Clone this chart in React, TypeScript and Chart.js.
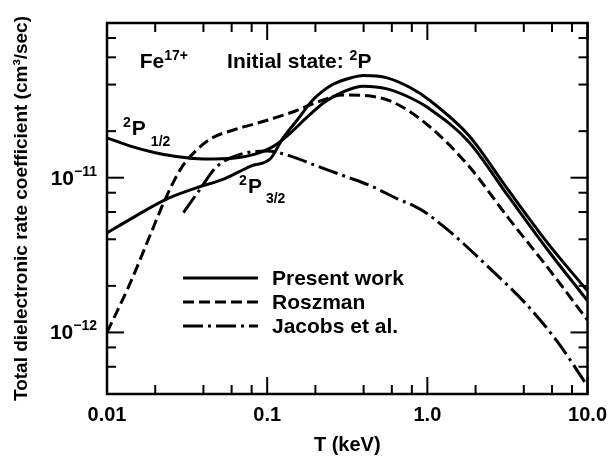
import React, { useEffect, useRef } from 'react';
import { Chart, registerables } from 'chart.js';

Chart.register(...registerables);

const FONT = '"Liberation Sans", Arial, Helvetica, sans-serif';

// ---------------- data ----------------
// Present work, initial state 2P1/2
const p12T = [0.01, 0.014, 0.02, 0.027, 0.04, 0.063, 0.084, 0.11, 0.14, 0.18, 0.23, 0.3, 0.4, 0.56, 0.8, 1.0, 1.8, 3.2, 5.6, 10];
const p12V = [1.81e-11, 1.6e-11, 1.45e-11, 1.37e-11, 1.32e-11, 1.34e-11, 1.42e-11, 1.6e-11, 1.95e-11, 2.5e-11, 3.1e-11, 3.6e-11, 3.9e-11, 3.75e-11, 3.25e-11, 2.85e-11, 1.72e-11, 7.6e-12, 3.45e-12, 1.6e-12];
// Present work, initial state 2P3/2
const p32T = [0.01, 0.014, 0.023, 0.036, 0.0535, 0.079, 0.105, 0.124, 0.155, 0.194, 0.256, 0.34, 0.4, 0.56, 0.79, 1.04, 1.82, 3.18, 5.56, 10];
const p32V = [4.4e-12, 5.4e-12, 7.2e-12, 8.6e-12, 9.8e-12, 1.19e-11, 1.33e-11, 1.77e-11, 2.38e-11, 3.2e-11, 4.0e-11, 4.45e-11, 4.57e-11, 4.42e-11, 3.8e-11, 3.15e-11, 1.87e-11, 8.4e-12, 3.85e-12, 1.85e-12];
// Roszman
const roszT = [0.01, 0.014, 0.0185, 0.023, 0.029, 0.036, 0.045, 0.063, 0.1, 0.15, 0.2, 0.3, 0.4, 0.6, 1.0, 1.8, 3.2, 5.6, 10];
const roszV = [1.0e-12, 2.1e-12, 4.2e-12, 7.2e-12, 1.15e-11, 1.5e-11, 1.8e-11, 2.05e-11, 2.35e-11, 2.7e-11, 3.05e-11, 3.42e-11, 3.4e-11, 3.1e-11, 2.2e-11, 1.2e-11, 5.5e-12, 2.65e-12, 1.2e-12];
// Jacobs et al.
const jacT = [0.03, 0.038, 0.048, 0.067, 0.1, 0.14, 0.2, 0.3, 0.45, 0.66, 0.82, 1.0, 1.2, 1.45, 2.4, 4.2, 6.6, 10];
const jacV = [5.95e-12, 8.4e-12, 1.17e-11, 1.41e-11, 1.49e-11, 1.38e-11, 1.2e-11, 1.03e-11, 8.8e-12, 7.25e-12, 6.6e-12, 5.85e-12, 5.05e-12, 4.3e-12, 2.65e-12, 1.5e-12, 8.5e-13, 4.5e-13];

const xTickValues = [0.01, 0.1, 1, 10];
const xTickLabels = ['0.01', '0.1', '1.0', '10.0'];
const xMinorTicks = [0.02, 0.04, 0.06, 0.08, 0.2, 0.4, 0.6, 0.8, 2, 4, 6, 8];
const yMajorTicks = [1e-12, 1e-11];
const yMajorExponents = ['\u221212', '\u221211'];
const yMinorTicks = [6e-13, 8e-13, 2e-12, 4e-12, 6e-12, 8e-12, 2e-11, 4e-11, 6e-11, 8e-11];
const legendLabels = ['Present work', 'Roszman', 'Jacobs et al.'];
const xTitle = 'T (keV)';
const yTitle = 'Total dielectronic rate coefficient (cm\u00B3/sec)';

const DASH_SOLID: number[] = [];
const DASH_DASHED = [11, 5];
const DASH_DOTDASH = [20, 5, 3, 5];
const legendDashes = [DASH_SOLID, DASH_DASHED, DASH_DOTDASH];

type Seg = { t: string; s: number; dy: number; gap?: number };

function font(size: number) {
  return `bold ${size}px ${FONT}`;
}

function richWidth(ctx: CanvasRenderingContext2D, segs: Seg[]) {
  let w = 0;
  for (const g of segs) {
    ctx.font = font(g.s);
    w += ctx.measureText(g.t).width + (g.gap || 0);
  }
  return w;
}

function drawRich(ctx: CanvasRenderingContext2D, x: number, y: number, segs: Seg[]) {
  let cx = x;
  ctx.textAlign = 'left';
  ctx.textBaseline = 'alphabetic';
  for (const g of segs) {
    cx += g.gap || 0;
    ctx.font = font(g.s);
    ctx.fillText(g.t, cx, y + g.dy);
    cx += ctx.measureText(g.t).width;
  }
}

const framePlugin = {
  id: 'framePlugin',
  afterDatasetsDraw(chart: any) {
    const { ctx, chartArea: a, scales } = chart;
    const xs = scales.x;
    const ys = scales.y;
    ctx.save();
    ctx.strokeStyle = '#000';
    ctx.fillStyle = '#000';
    ctx.setLineDash([]);
    const seg = (x1: number, y1: number, x2: number, y2: number) => {
      ctx.beginPath();
      ctx.moveTo(x1, y1);
      ctx.lineTo(x2, y2);
      ctx.stroke();
    };
    const MAJ = 17;
    const MIN = 9;
    ctx.lineWidth = 2;
    for (const v of xTickValues) {
      const p = xs.getPixelForValue(v);
      seg(p, a.bottom, p, a.bottom - MAJ);
      seg(p, a.top, p, a.top + MAJ);
    }
    for (const v of xMinorTicks) {
      const p = xs.getPixelForValue(v);
      seg(p, a.bottom, p, a.bottom - MIN);
      seg(p, a.top, p, a.top + MIN);
    }
    for (const v of yMajorTicks) {
      const p = ys.getPixelForValue(v);
      seg(a.left, p, a.left + MAJ, p);
      seg(a.right, p, a.right - MAJ, p);
    }
    for (const v of yMinorTicks) {
      const p = ys.getPixelForValue(v);
      seg(a.left, p, a.left + MIN, p);
      seg(a.right, p, a.right - MIN, p);
    }
    ctx.lineWidth = 2.5;
    ctx.strokeRect(a.left, a.top, a.right - a.left, a.bottom - a.top);

    // y tick labels 10^n
    yMajorTicks.forEach((v, i) => {
      const p = ys.getPixelForValue(v);
      const segs: Seg[] = [
        { t: '10', s: 21, dy: 0 },
        { t: yMajorExponents[i], s: 14, dy: -9 },
      ];
      const w = richWidth(ctx, segs);
      drawRich(ctx, a.left - 10 - w, p + 7, segs);
    });

    // annotations
    drawRich(ctx, xs.getPixelForValue(0.016), ys.getPixelForValue(5.15e-11), [
      { t: 'Fe', s: 21, dy: 0 },
      { t: '17+', s: 14, dy: -8 },
    ]);
    drawRich(ctx, xs.getPixelForValue(0.0562), ys.getPixelForValue(5.15e-11), [
      { t: 'Initial state: ', s: 21, dy: 0 },
      { t: '2', s: 14, dy: -8 },
      { t: 'P', s: 21, dy: 0 },
    ]);
    drawRich(ctx, xs.getPixelForValue(0.0126), ys.getPixelForValue(1.875e-11), [
      { t: '2', s: 14, dy: -8 },
      { t: 'P', s: 21, dy: 0, gap: 1 },
      { t: '1/2', s: 14, dy: 11, gap: 5 },
    ]);
    drawRich(ctx, xs.getPixelForValue(0.0668), ys.getPixelForValue(7.92e-12), [
      { t: '2', s: 14, dy: -8 },
      { t: 'P', s: 21, dy: 0, gap: 1 },
      { t: '3/2', s: 14, dy: 10, gap: 4 },
    ]);

    // legend
    ctx.lineWidth = 3;
    legendLabels.forEach((lab, i) => {
      const y = a.top + 255 + i * 24;
      ctx.setLineDash(legendDashes[i]);
      seg(a.left + 76, y, a.left + 151, y);
      ctx.setLineDash([]);
      ctx.font = font(21);
      ctx.textAlign = 'left';
      ctx.textBaseline = 'middle';
      ctx.fillText(lab, a.left + 165, y + 1);
    });
    ctx.restore();
  },
};

function pts(t: number[], v: number[]) {
  return t.map((x, i) => ({ x, y: v[i] }));
}

export default function App() {
  const ref = useRef<HTMLCanvasElement | null>(null);
  useEffect(() => {
    if (!ref.current) return;
    const common = {
      borderColor: '#000',
      borderWidth: 3,
      pointRadius: 0,
      fill: false,
      cubicInterpolationMode: 'monotone' as const,
      borderJoinStyle: 'round' as const,
    };
    const chart = new Chart(ref.current, {
      type: 'line',
      data: {
        datasets: [
          { ...common, label: 'Present work 2P1/2', data: pts(p12T, p12V), borderDash: DASH_SOLID },
          { ...common, label: 'Present work 2P3/2', data: pts(p32T, p32V), borderDash: DASH_SOLID },
          { ...common, label: 'Roszman', data: pts(roszT, roszV), borderDash: DASH_DASHED },
          { ...common, label: 'Jacobs et al.', data: pts(jacT, jacV), borderDash: DASH_DOTDASH },
        ],
      },
      options: {
        animation: false,
        responsive: false,
        devicePixelRatio: 1,
        layout: { padding: { top: 23, right: 25, left: 0, bottom: 0 } },
        plugins: { legend: { display: false }, tooltip: { enabled: false } },
        scales: {
          x: {
            type: 'logarithmic',
            min: 0.01,
            max: 10,
            grid: { display: false, drawTicks: false },
            border: { display: false },
            afterBuildTicks: (s: any) => {
              s.ticks = xTickValues.map((v) => ({ value: v }));
            },
            afterFit: (s: any) => {
              s.height = 67;
            },
            ticks: {
              autoSkip: false,
              maxRotation: 0,
              padding: 9,
              color: '#000',
              font: { family: FONT, size: 20, weight: 'bold' },
              callback: (v: any) => {
                const i = xTickValues.indexOf(Number(v));
                return i >= 0 ? xTickLabels[i] : '';
              },
            },
            title: {
              display: true,
              text: xTitle,
              color: '#000',
              font: { family: FONT, size: 20, weight: 'bold' },
              padding: { top: 0, bottom: 4 },
            },
          },
          y: {
            type: 'logarithmic',
            min: 4e-13,
            max: 1e-10,
            grid: { display: false, drawTicks: false },
            border: { display: false },
            ticks: { display: false },
            afterFit: (s: any) => {
              s.width = 107;
            },
            title: {
              display: true,
              text: yTitle,
              color: '#000',
              font: { family: FONT, size: 19, weight: 'bold' },
              padding: { top: 10, bottom: 0 },
            },
          },
        },
      } as any,
      plugins: [framePlugin],
    });
    return () => chart.destroy();
  }, []);
  return (
    <div style={{ position: 'absolute', left: 0, top: 0, width: 616, height: 461, background: '#fff' }}>
      <canvas ref={ref} width={616} height={461} style={{ display: 'block' }} />
    </div>
  );
}
